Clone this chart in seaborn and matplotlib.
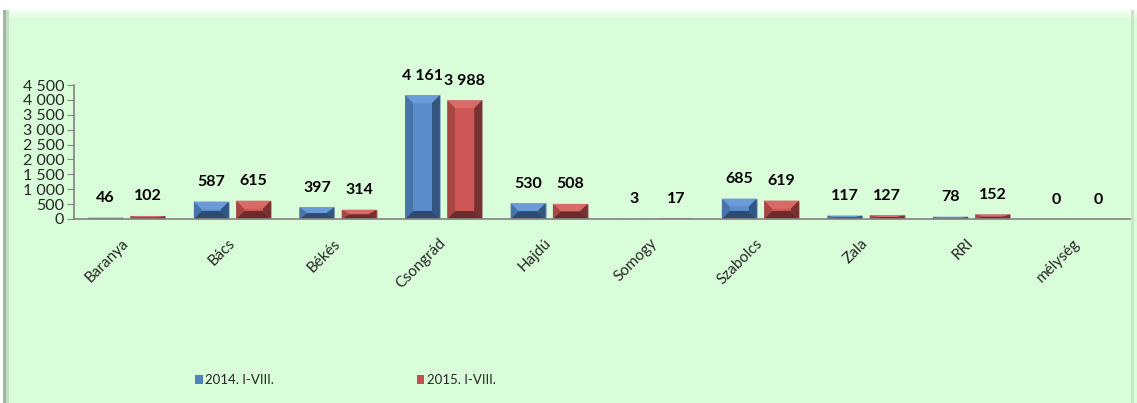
import numpy as np
import pandas as pd
import matplotlib
matplotlib.use("Agg")
import matplotlib.pyplot as plt
import seaborn as sns
from matplotlib.patches import Rectangle

# Adatok
categories = ["Baranya", "Bács", "Békés", "Csongrád", "Hajdú",
              "Somogy", "Szabolcs", "Zala", "RRI", "mélység"]
series_names = ["2014. I-VIII.", "2015. I-VIII."]
values_2014 = [46, 587, 397, 4161, 530, 3, 685, 117, 78, 0]
values_2015 = [102, 615, 314, 3988, 508, 17, 619, 127, 152, 0]
yticks = [0, 500, 1000, 1500, 2000, 2500, 3000, 3500, 4000, 4500]

df = pd.DataFrame({
    "megye": categories * 2,
    "ev": [series_names[0]] * len(categories) + [series_names[1]] * len(categories),
    "ertek": values_2014 + values_2015,
})

sns.set_theme(style="white")
plt.rcParams["font.family"] = ["Lato", "DejaVu Sans"]

W, H = 1137, 403
bg = "#d9fdd9"
fig = plt.figure(figsize=(W / 100, H / 100), dpi=100)
fig.patch.set_facecolor("white")

# zöld háttérpanel (Excel-szerű keret)
def fig_rect(x, y, w, h, **kw):
    r = Rectangle((x / W, 1 - (y + h) / H), w / W, h / H,
                  transform=fig.transFigure, zorder=-5, **kw)
    fig.patches.append(r)

fig_rect(3, 10, 1134, 393, facecolor=bg, edgecolor="none")
fig_rect(3, 10, 1134, 3, facecolor="#f2fff2", edgecolor="none")
fig_rect(3, 13, 1134, 5, facecolor="#e6fee6", edgecolor="none")
fig_rect(3, 10, 3, 393, facecolor="#9fb89f", edgecolor="none")
fig_rect(6, 10, 3, 393, facecolor="#c3dcc3", edgecolor="none")
fig_rect(1131, 10, 3, 393, facecolor="#c6e6c6", edgecolor="none")

ax = fig.add_axes([74 / W, 1 - 219 / H, 1056 / W, 134 / H])
ax.set_facecolor("none")

colors = ["#4f81bd", "#c0504d"]
sns.barplot(data=df, x="megye", y="ertek", hue="ev", palette=colors,
            saturation=1, ax=ax, width=0.8, gap=0.175, legend=True,
            edgecolor="none", linewidth=0)

ax.set_ylim(0, 4500)
ax.set_xlim(-0.5, len(categories) - 0.5)

# "ferde él" (bevel) hatás a hasábokon
shades = {
    0: dict(top="#6b9bd8", left="#4874a8", right="#34557f", bottom="#2e4a70",
            mid="#5a8ccc"),
    1: dict(top="#d86a68", left="#a84644", right="#783131", bottom="#6b2b2b",
            mid="#cd5755"),
}
px_x = (len(categories)) / 1056.0
px_y = 4500 / 134.0
for k, container in enumerate(ax.containers):
    s = shades[k]
    for bar in container:
        x0, w, h = bar.get_x(), bar.get_width(), bar.get_height()
        if h <= 0:
            continue
        x1 = x0 + w
        bx = min(8 * px_x, w / 2)
        by = min(8 * px_y, h / 2)
        bar.set_facecolor(s["mid"])
        bar.set_edgecolor("#9fb0b8")
        bar.set_linewidth(0.4)
        ax.fill([x0, x1, x1 - bx, x0 + bx], [h, h, h - by, h - by],
                color=s["top"], lw=0, zorder=3)
        ax.fill([x0, x0 + bx, x0 + bx, x0], [h, h - by, by, 0],
                color=s["left"], lw=0, zorder=3)
        ax.fill([x1, x1 - bx, x1 - bx, x1], [h, h - by, by, 0],
                color=s["right"], lw=0, zorder=3)
        ax.fill([x0, x1, x1 - bx, x0 + bx], [0, 0, by, by],
                color=s["bottom"], lw=0, zorder=3)
        if h - 2 * by > 0:
            ax.fill([x0 + bx, x1 - bx, x1 - bx, x0 + bx],
                    [by, by, h - by, h - by], color=s["mid"], lw=0, zorder=3)

for container in ax.containers:
    labels = [f"{int(v):,}".replace(",", " ") for v in container.datavalues]
    ax.bar_label(container, labels=labels, padding=9, fontsize=11.5,
                 fontweight="bold", color="black")

ax.set_yticks(yticks)
ax.set_yticklabels([f"{v:,}".replace(",", " ") for v in yticks], fontsize=11.5)
ax.set_xlabel("")
ax.set_ylabel("")
ax.tick_params(axis="x", labelsize=11, length=0, pad=16)
ax.tick_params(axis="y", length=5, width=0.8, pad=2, color="#868686", left=True)
for lbl in ax.get_xticklabels():
    lbl.set_rotation(45)
    lbl.set_ha("right")
    lbl.set_va("center")
    lbl.set_rotation_mode("anchor")

for side in ["top", "right"]:
    ax.spines[side].set_visible(False)
ax.spines["left"].set_color("#868686")
ax.spines["bottom"].set_color("#868686")
ax.spines["bottom"].set_zorder(4)

handles, labels = ax.get_legend_handles_labels()
ax.legend_.remove()
fig.legend(handles, labels, loc="center left",
           bbox_to_anchor=(188 / W, 1 - 380 / H), ncol=2, frameon=False,
           fontsize=9.5, handlelength=0.6, handleheight=0.6,
           handletextpad=0.2, columnspacing=10.8, borderpad=0)

fig.savefig("out.png", dpi=100, facecolor=fig.get_facecolor())
